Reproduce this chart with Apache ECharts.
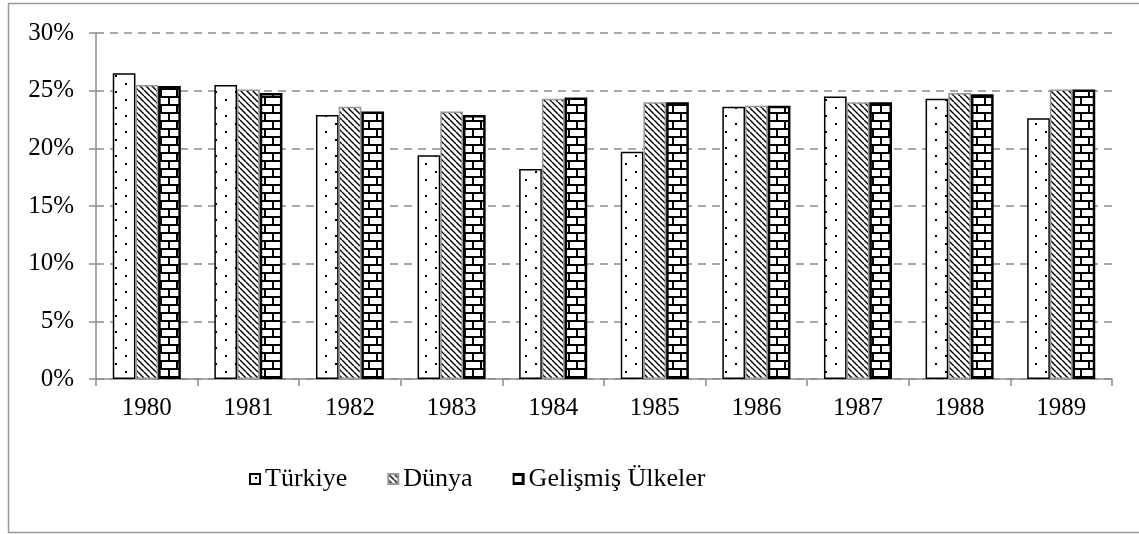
<!DOCTYPE html>
<html>
<head>
<meta charset="utf-8">
<script src="https://cdn.jsdelivr.net/npm/echarts@6/dist/echarts.min.js"></script>
<style>
  html, body { margin: 0; padding: 0; background: #fff; }
  #chart { width: 1139px; height: 534px; }
</style>
</head>
<body>
<div id="chart"></div>
<script>
// veriler
const years = ['1980', '1981', '1982', '1983', '1984', '1985', '1986', '1987', '1988', '1989'];
const turkiye = [26.5, 25.5, 22.9, 19.4, 18.2, 19.7, 23.6, 24.5, 24.3, 22.6];
const dunya = [25.5, 25.1, 23.6, 23.2, 24.3, 24.0, 23.7, 24.0, 24.8, 25.1];
const gelismis = [25.4, 24.8, 23.2, 22.9, 24.4, 24.0, 23.7, 24.0, 24.7, 25.1];
const seriesNames = ['Türkiye', 'Dünya', 'Gelişmiş Ülkeler'];
const yTicks = [0, 5, 10, 15, 20, 25, 30];

const FONT = '"Liberation Serif", "Times New Roman", serif';
const GRAY = '#8c8c8c';

// desen karolari
function makeTile(w, h, draw) {
    const c = document.createElement('canvas');
    c.width = w;
    c.height = h;
    const ctx = c.getContext('2d');
    ctx.fillStyle = '#fff';
    ctx.fillRect(0, 0, w, h);
    draw(ctx);
    return c;
}

// noktali
const dotTile = makeTile(20, 16, ctx => {
    ctx.fillStyle = '#000';
    ctx.fillRect(5, 3, 2, 2);
    ctx.fillRect(15, 11, 2, 2);
});

// capraz taramali
const hatchTile = makeTile(6, 6, ctx => {
    ctx.strokeStyle = '#000';
    ctx.lineWidth = 1.4;
    ctx.beginPath();
    for (let k = -6; k <= 12; k += 6) {
        ctx.moveTo(k, 0);
        ctx.lineTo(k + 6, 6);
    }
    ctx.stroke();
});

// tugla
const brickTile = makeTile(16, 16, ctx => {
    ctx.fillStyle = '#000';
    ctx.fillRect(0, 0, 16, 2);
    ctx.fillRect(0, 8, 16, 2);
    ctx.fillRect(8, 0, 2, 8);
    ctx.fillRect(0, 8, 2, 8);
});

const chart = echarts.init(document.getElementById('chart'));

const option = {
    backgroundColor: '#fff',
    animation: false,
    graphic: [{
        type: 'rect',
        shape: { x: 8.5, y: 3.5, width: 1145, height: 529 },
        style: { fill: 'none', stroke: '#999', lineWidth: 1.5 },
        z: -1
    }],
    grid: {
        left: 96,
        right: 27,
        top: 33,
        bottom: 155
    },
    legend: {
        left: 244,
        top: 461,
        itemWidth: 10,
        itemHeight: 10,
        itemGap: 40,
        icon: 'rect',
        data: seriesNames,
        textStyle: { fontFamily: FONT, fontSize: 26, color: '#000', padding: [0, 0, 0, 0] }
    },
    xAxis: {
        type: 'category',
        data: years,
        axisLine: { lineStyle: { color: GRAY, width: 1.5 } },
        axisTick: { show: true, length: 7, lineStyle: { color: GRAY, width: 1.5 } },
        axisLabel: { fontFamily: FONT, fontSize: 25, color: '#000', margin: 17 }
    },
    yAxis: {
        type: 'value',
        min: 0,
        max: 30,
        interval: 5,
        axisLine: { show: true, lineStyle: { color: GRAY, width: 1.5 } },
        axisTick: { show: true, length: 7, lineStyle: { color: GRAY, width: 1.5 } },
        axisLabel: {
            fontFamily: FONT, fontSize: 25, color: '#000', margin: 22,
            formatter: v => (yTicks.indexOf(v) >= 0 ? v + '%' : '')
        },
        splitLine: { lineStyle: { color: GRAY, width: 1.5, type: [8, 6] } }
    },
    series: [
        {
            name: seriesNames[0],
            type: 'bar',
            data: turkiye,
            barGap: '0%',
            barCategoryGap: '33%',
            itemStyle: {
                color: { image: dotTile, repeat: 'repeat' },
                borderColor: '#000',
                borderWidth: 1.5
            }
        },
        {
            name: seriesNames[1],
            type: 'bar',
            data: dunya,
            barGap: '0%',
            barCategoryGap: '33%',
            itemStyle: {
                color: { image: hatchTile, repeat: 'repeat' },
                borderColor: '#999',
                borderWidth: 1.5
            }
        },
        {
            name: seriesNames[2],
            type: 'bar',
            data: gelismis,
            barGap: '0%',
            barCategoryGap: '33%',
            itemStyle: {
                color: { image: brickTile, repeat: 'repeat' },
                borderColor: '#000',
                borderWidth: 2.5
            }
        }
    ]
};

chart.setOption(option);
</script>
</body>
</html>
